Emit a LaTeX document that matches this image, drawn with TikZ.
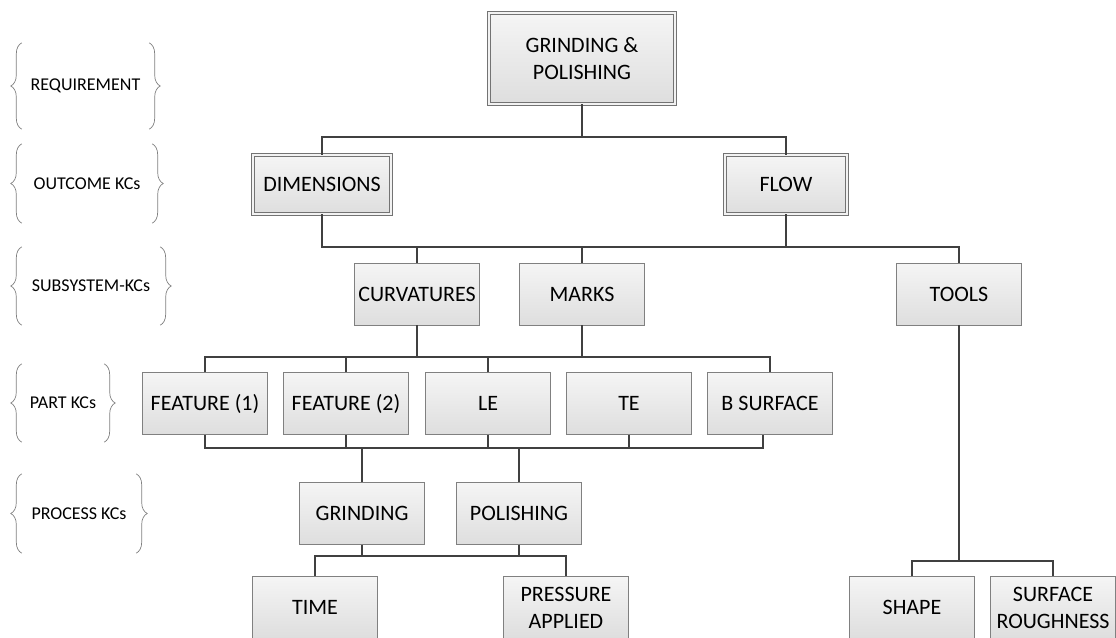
\documentclass[tikz,border=0pt]{standalone}
\usepackage{fontspec}
\setmainfont{Carlito}
\usetikzlibrary{decorations.pathreplacing}

\begin{document}
\begin{tikzpicture}[x=1pt, y=-1pt,
            kcbox/.style={draw=black!50, line width=0.8pt, top color=black!4, bottom color=black!13, minimum width=125pt, minimum height=62pt, inner sep=2pt, align=center, font=\fontsize{22}{27}\selectfont},
            kcmain/.style={kcbox, draw=black!55, double=black!5, double distance=2pt},
            link/.style={draw=black!75, line width=1.7pt},
            lvltext/.style={inner sep=0pt, font=\fontsize{18}{22}\selectfont},
            lvlbrace/.style={draw=black!50, line width=0.7pt, decorate, decoration={brace, amplitude=11pt}}]
            \useasboundingbox (0,0) rectangle (1116,637);

            \node[lvltext, minimum width=127pt, minimum height=86pt] (req) at (85.5,86) {REQUIREMENT};
            \node[lvltext, minimum width=130pt, minimum height=79pt] (outc) at (87,183.5) {OUTCOME KCs};
            \node[lvltext, minimum width=138pt, minimum height=78pt] (subs) at (91,286) {SUBSYSTEM-KCs};
            \node[lvltext, minimum width=82pt, minimum height=78pt] (partk) at (63,403) {PART KCs};
            \node[lvltext, minimum width=114pt, minimum height=79pt] (proc) at (79,513.5) {PROCESS KCs};

            \foreach \lvl in {req, outc, subs, partk, proc} {
                \draw[lvlbrace] (\lvl.south west) -- (\lvl.north west);
                \draw[lvlbrace] (\lvl.north east) -- (\lvl.south east);
            }

            \node[kcmain, minimum width=186pt, minimum height=91pt] (top) at (582,58.5) {GRINDING \&\\POLISHING};
            \node[kcmain, minimum width=138pt, minimum height=59pt] (dim) at (322,184.5) {DIMENSIONS};
            \node[kcmain, minimum width=122pt, minimum height=59pt] (flow) at (786,184.5) {FLOW};

            \node[kcbox] (curv) at (417,294) {CURVATURES};
            \node[kcbox] (marks) at (582,294) {MARKS};
            \node[kcbox] (tools) at (959,294) {TOOLS};

            \node[kcbox] (f1) at (205,403.5) {FEATURE (1)};
            \node[kcbox] (f2) at (346,403.5) {FEATURE (2)};
            \node[kcbox] (le) at (488,403.5) {LE};
            \node[kcbox] (te) at (629,403.5) {TE};
            \node[kcbox] (bsurf) at (770,403.5) {B SURFACE};

            \node[kcbox] (grind) at (362,513.5) {GRINDING};
            \node[kcbox] (polish) at (519,513.5) {POLISHING};

            \node[kcbox] (time) at (315,607.5) {TIME};
            \node[kcbox] (press) at (566,607.5) {PRESSURE\\APPLIED};
            \node[kcbox] (shape) at (912,607.5) {SHAPE};
            \node[kcbox] (rough) at (1053,607.5) {SURFACE\\ROUGHNESS};

            \coordinate (lvl1) at (0,137);
            \coordinate (lvl2) at (0,247);
            \coordinate (lvl3) at (0,357);
            \coordinate (lvl4) at (0,448);
            \coordinate (lvl5) at (0,556);
            \coordinate (lvl6) at (0,561);

            \draw[link] (top.south) -- (top.south |- lvl1) -| (dim.north);
            \draw[link] (top.south |- lvl1) -| (flow.north);

            \draw[link] (dim.south) -- (dim.south |- lvl2) -| (tools.north);
            \draw[link] (flow.south) -- (flow.south |- lvl2);
            \draw[link] (curv.north) -- (curv.north |- lvl2);
            \draw[link] (marks.north) -- (marks.north |- lvl2);

            \draw[link] (f1.north) -- (f1.north |- lvl3) -| (bsurf.north);
            \draw[link] (f2.north) -- (f2.north |- lvl3);
            \draw[link] (le.north) -- (le.north |- lvl3);
            \draw[link] (curv.south) -- (curv.south |- lvl3);
            \draw[link] (marks.south) -- (marks.south |- lvl3);

            \draw[link] (f1.south) -- (f1.south |- lvl4) -| ([xshift=-7pt]bsurf.south);
            \draw[link] (f2.south) -- (f2.south |- lvl4);
            \draw[link] (le.south) -- (le.south |- lvl4);
            \draw[link] (te.south) -- (te.south |- lvl4);
            \draw[link] (grind.north) -- (grind.north |- lvl4);
            \draw[link] (polish.north) -- (polish.north |- lvl4);

            \draw[link] (time.north) -- (time.north |- lvl5) -| (press.north);
            \draw[link] (grind.south) -- (grind.south |- lvl5);
            \draw[link] (polish.south) -- (polish.south |- lvl5);

            \draw[link] (tools.south) -- (tools.south |- lvl6);
            \draw[link] (shape.north) -- (shape.north |- lvl6) -| (rough.north);
        \end{tikzpicture}
\end{document}
